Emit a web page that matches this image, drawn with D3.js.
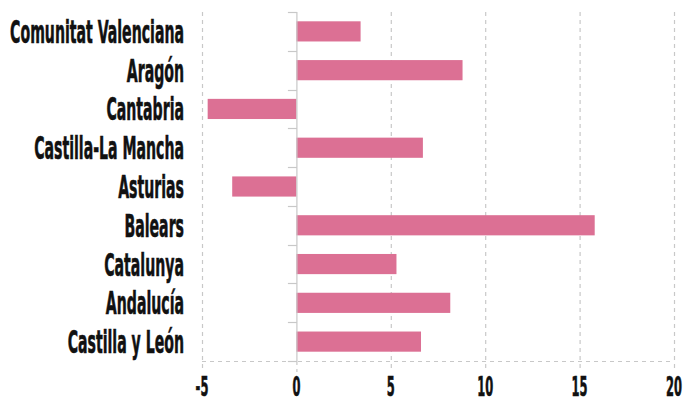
<!DOCTYPE html>
<html>
<head>
<meta charset="utf-8">
<script src="https://cdn.jsdelivr.net/npm/d3@7"></script>
<style>
  body { margin: 0; background: #fff; }
  .lbl { font-family: "DejaVu Sans Condensed", "Liberation Sans Narrow", sans-serif; font-weight: bold; fill: #111; stroke: #111; stroke-width: 0.6; }
</style>
</head>
<body>
<div id="chart"></div>
<script>
const regions = ["Comunitat Valenciana", "Aragón", "Cantabria", "Castilla-La Mancha", "Asturias", "Balears", "Catalunya", "Andalucía", "Castilla y León"];
const values = [3.4, 8.8, -4.7, 6.7, -3.4, 15.8, 5.3, 8.15, 6.6];
const xTicks = [-5, 0, 5, 10, 15, 20];

const width = 683;
const height = 403;
const plotLeft = 202, plotRight = 674, plotTop = 12, plotBottom = 361;

const svg = d3.select('#chart')
  .append('svg')
  .attr('width', width)
  .attr('height', height)

const xScale = d3.scaleLinear()
  .domain([-5, 20])
  .range([plotLeft, plotRight])

const yScale = d3.scaleBand()
  .domain(regions)
  .range([plotTop, plotBottom])
  .paddingInner(0.48)
  .paddingOuter(0.24)

// vertical dashed grid
svg.append('g')
  .selectAll('line')
  .data(xTicks)
  .join('line')
  .attr('x1', d => xScale(d) + 0.5)
  .attr('x2', d => xScale(d) + 0.5)
  .attr('y1', d => d === 0 ? plotBottom : plotTop)
  .attr('y2', plotBottom + 11)
  .attr('stroke', '#c8c8c8')
  .attr('stroke-width', 1.2)
  .attr('stroke-dasharray', '4,4')

// bottom dashed line
svg.append('line')
  .attr('x1', plotLeft).attr('x2', plotRight)
  .attr('y1', plotBottom + 0.5).attr('y2', plotBottom + 0.5)
  .attr('stroke', '#c8c8c8')
  .attr('stroke-width', 1.2)
  .attr('stroke-dasharray', '4,4')

// bars
svg.append('g')
  .selectAll('rect')
  .data(regions.map((r, i) => ({ r, v: values[i] })))
  .join('rect')
  .attr('x', d => xScale(Math.min(0, d.v)))
  .attr('width', d => Math.abs(xScale(d.v) - xScale(0)))
  .attr('y', d => yScale(d.r))
  .attr('height', yScale.bandwidth())
  .attr('fill', '#dc7094')

// zero axis with boundary ticks
const step = yScale.step();
const bounds = regions.map(r => yScale(r) - yScale.paddingInner() * step / 2).concat([plotBottom]);
const zx = xScale(0) + 0.5;
svg.append('line')
  .attr('x1', zx).attr('x2', zx)
  .attr('y1', plotTop).attr('y2', plotBottom)
  .attr('stroke', '#c8c8c8')
  .attr('stroke-width', 1.2)
svg.append('g')
  .selectAll('line')
  .data(bounds)
  .join('line')
  .attr('x1', zx - 9).attr('x2', zx)
  .attr('y1', d => Math.round(d) + 0.5)
  .attr('y2', d => Math.round(d) + 0.5)
  .attr('stroke', '#c8c8c8')
  .attr('stroke-width', 1.2)

// y labels, squeezed to look like a condensed display face
const yLabels = svg.append('g')
  .selectAll('text')
  .data(regions)
  .join('text')
  .attr('class', 'lbl')
  .attr('text-anchor', 'end')
  .attr('dy', '0.36em')
  .style('font-size', '32px')
  .text(d => d)
const ySqueeze = 174 / yLabels.nodes()[0].getComputedTextLength();
yLabels.attr('transform', d => `translate(184, ${yScale(d) + yScale.bandwidth() / 2}) scale(${ySqueeze},1)`)

// x labels
const xLabels = svg.append('g')
  .selectAll('text')
  .data(xTicks)
  .join('text')
  .attr('class', 'lbl')
  .attr('text-anchor', 'middle')
  .style('font-size', '27px')
  .text(d => d)
const xSqueeze = 16 / xLabels.nodes()[4].getComputedTextLength();
xLabels.attr('transform', d => `translate(${xScale(d)}, 396) scale(${xSqueeze},1)`)
</script>
</body>
</html>
